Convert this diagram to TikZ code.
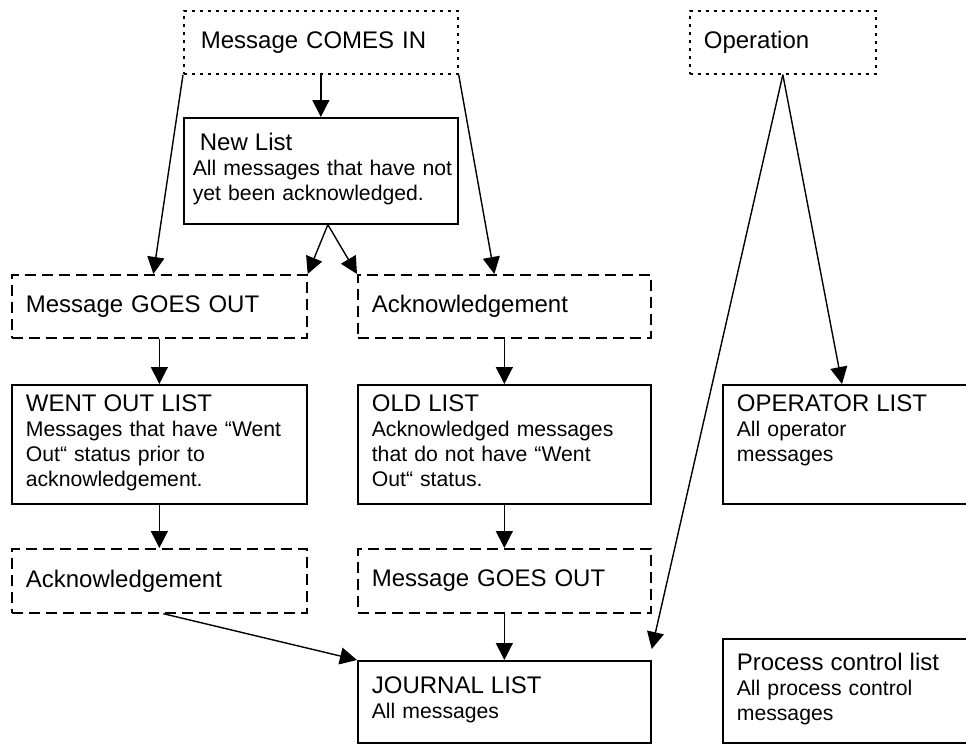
\documentclass[tikz,border=0pt]{standalone}
\usepackage{fontspec}
\setmainfont{Liberation Sans}
\usetikzlibrary{arrows.meta}

\newcommand{\ttlfont}{\fontsize{12}{12.5}\selectfont}
\newcommand{\descfont}{\fontsize{10.6}{12.5}\selectfont}

\begin{document}
\begin{tikzpicture}[x=0.5pt, y=-0.5pt,
    box/.style={draw, line width=0.85pt, anchor=north west, align=left, inner xsep=7pt, inner ysep=0pt, font=\ttlfont},
    dottedbox/.style={box, dash pattern=on 1.5pt off 2.5pt},
    dashedbox/.style={box, dash pattern=on 5.5pt off 3pt},
    listbox/.style={box, font=\descfont},
    arrow/.style={-{Triangle[length=8.5pt, width=8.5pt]}, line width=0.7pt}
]
\clip (0,0) rectangle (966,744);

% Sources
\node[dottedbox, inner xsep=8.5pt, text width=120pt, minimum height=31.5pt] (comesin) at (183,10) {Message COMES IN};
\node[dottedbox, text width=79pt, minimum height=31.5pt] (operation) at (689,10) {Operation};

% Lists and events
\node[listbox, inner xsep=4.5pt, text width=128pt, minimum height=53pt] (newlist) at (183,117) {{\ttlfont\hspace*{3.5pt}New List}\\\mbox{All messages that have not}\\yet been acknowledged.\strut};
\node[dashedbox, text width=133.5pt, minimum height=31.5pt] (goesout) at (11,274) {Message GOES OUT};
\node[dashedbox, text width=132.5pt, minimum height=31.5pt] (ack) at (357,274) {Acknowledgement};
\node[listbox, text width=133.5pt, minimum height=59.5pt] (wentout) at (11,384) {{\ttlfont WENT OUT LIST}\\Messages that have “Went\\Out“ status prior to\\acknowledgement.\strut};
\node[listbox, text width=132.5pt, minimum height=59.5pt] (oldlist) at (357,384) {{\ttlfont OLD LIST}\\Acknowledged messages\\that do not have “Went\\Out“ status.\strut};
\node[listbox, text width=136pt, minimum height=59.5pt] (operator) at (722,384) {{\ttlfont OPERATOR LIST}\\All operator\\messages\\\strut};
\node[dashedbox, text width=133.5pt, minimum height=32pt] (acklate) at (11,548) {Acknowledgement};
\node[dashedbox, text width=132.5pt, minimum height=32pt] (goesoutlate) at (357,548) {Message GOES OUT};
\node[listbox, text width=132.5pt, minimum height=41pt] (journal) at (357,660) {{\ttlfont JOURNAL LIST}\\All messages\strut};
\node[listbox, text width=136pt, minimum height=52pt] (process) at (722,638) {{\ttlfont Process control list}\\All process control\\messages\strut};

% Arrows
\draw[arrow] (comesin.south) -- (newlist.north);
\draw[arrow] (comesin.south west) -- ([xshift=-3pt]goesout.north);
\draw[arrow] (comesin.south east) -- ([xshift=-5pt]ack.north);
\draw[arrow] ([xshift=3.5pt]newlist.south) -- (goesout.north east);
\draw[arrow] ([xshift=3.5pt]newlist.south) -- (ack.north west);
\draw[arrow] (goesout.south) -- (wentout.north);
\draw[arrow] (ack.south) -- (oldlist.north);
\draw[arrow] (wentout.south) -- (acklate.north);
\draw[arrow] (oldlist.south) -- (goesoutlate.north);
\draw[arrow] ([xshift=2pt]acklate.south) -- (journal.north west);
\draw[arrow] (goesoutlate.south) -- (journal.north);
\draw[arrow] (operation.south) -- ([xshift=60pt]operator.north west);
\draw[arrow] (operation.south) -- ([yshift=5.5pt]journal.north east);

\end{tikzpicture}
\end{document}
